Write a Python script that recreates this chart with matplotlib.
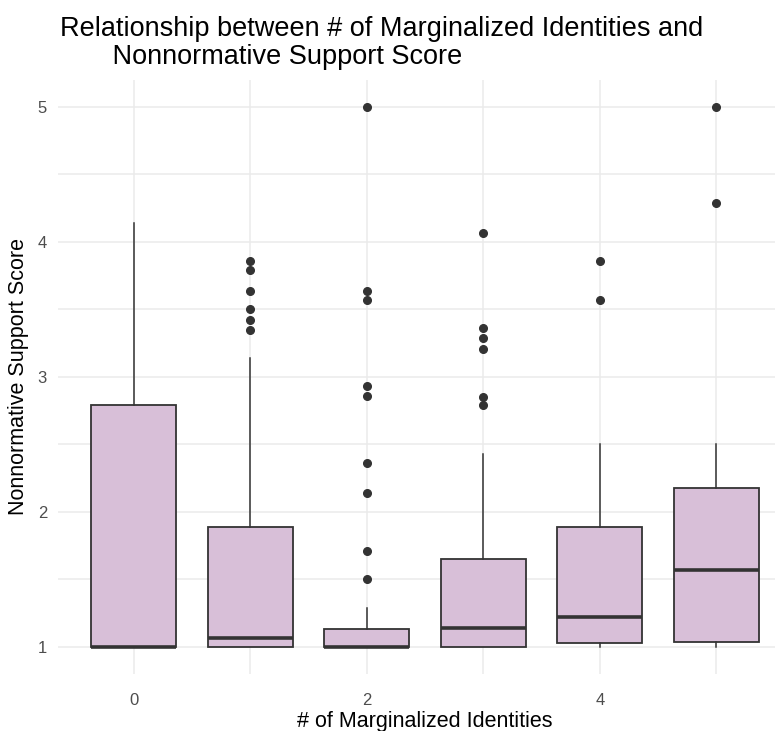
import matplotlib.pyplot as plt

plt.rcParams['font.family'] = ['Liberation Sans', 'DejaVu Sans']

# number of marginalized identities (x positions)
groups = [0, 1, 2, 3, 4, 5]

# box summary statistics per group
whislo = [1.00, 1.00, 1.00, 1.00, 1.00, 1.00]
q1 = [1.00, 1.00, 1.00, 1.00, 1.03, 1.04]
med = [1.00, 1.07, 1.00, 1.14, 1.22, 1.57]
q3 = [2.79, 1.89, 1.13, 1.65, 1.89, 2.18]
whishi = [4.14, 3.14, 1.29, 2.43, 2.50, 2.50]

# outliers per group
fliers = [
    [],
    [3.86, 3.79, 3.64, 3.50, 3.42, 3.35],
    [5.00, 3.64, 3.57, 2.93, 2.86, 2.36, 2.14, 1.71, 1.50],
    [4.07, 3.36, 3.29, 3.21, 2.85, 2.79],
    [3.86, 3.57],
    [5.00, 4.29],
]

stats = []
for i in range(len(groups)):
    stats.append(dict(whislo=whislo[i], q1=q1[i], med=med[i], q3=q3[i],
                      whishi=whishi[i], fliers=fliers[i]))

fig = plt.figure(figsize=(7.75, 7.31), dpi=100)
ax = fig.add_axes([0.075, 0.078, 0.947, 0.8126])

edge = '#333333'
ax.bxp(stats, positions=groups, widths=0.73, patch_artist=True, showcaps=False,
       manage_ticks=False,
       boxprops=dict(facecolor='#D8BFD8', edgecolor=edge, linewidth=1.3),
       medianprops=dict(color=edge, linewidth=2.6),
       whiskerprops=dict(color=edge, linewidth=1.1),
       flierprops=dict(marker='o', markerfacecolor=edge, markeredgecolor=edge,
                       markersize=5.5))

# theme_minimal-like styling
ax.set_xlim(-0.65, 5.65)
ax.set_ylim(0.8, 5.2)
ax.set_xticks([0, 2, 4])
ax.set_xticks([1, 3, 5], minor=True)
ax.set_yticks([1, 2, 3, 4, 5])
ax.set_yticks([1.5, 2.5, 3.5, 4.5], minor=True)
ax.grid(True, which='major', color='#EBEBEB', linewidth=1.1)
ax.grid(True, which='minor', color='#EBEBEB', linewidth=1.1)
ax.set_axisbelow(True)
for s in ax.spines.values():
    s.set_visible(False)
ax.tick_params(which='both', length=0, labelsize=12, labelcolor='#4D4D4D')
ax.tick_params(axis='x', pad=14)
ax.tick_params(axis='y', pad=8)

ax.set_xlabel('# of Marginalized Identities', fontsize=15.5, labelpad=2)
ax.set_ylabel('Nonnormative Support Score', fontsize=15.5, labelpad=6)
fig.text(0.077, 0.978, 'Relationship between # of Marginalized Identities and\n'
         '       Nonnormative Support Score', fontsize=19.5, va='top', ha='left',
         linespacing=1.08)

fig.savefig('out.png', dpi=100)
